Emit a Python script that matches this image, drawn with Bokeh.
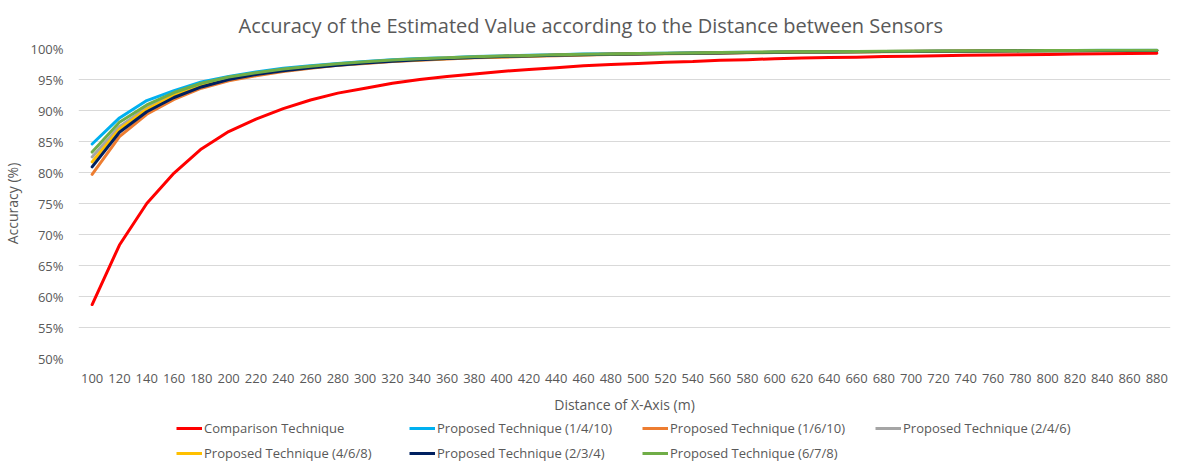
from bokeh.plotting import figure
from bokeh.layouts import column
from bokeh.models import Range1d, FactorRange, Legend, LegendItem, FixedTicker, PrintfTickFormatter, Title
from bokeh.embed import file_html
from bokeh.resources import INLINE

distances = [str(d) for d in range(100, 881, 20)]

comparison = [58.7, 68.3, 75.0, 79.9, 83.8, 86.6, 88.6, 90.3, 91.7, 92.8,
              93.6, 94.4, 95.0, 95.5, 95.9, 96.3, 96.6, 96.9, 97.2, 97.4,
              97.6, 97.8, 97.9, 98.1, 98.2, 98.35, 98.45, 98.55, 98.6, 98.7,
              98.75, 98.85, 98.9, 98.95, 99.0, 99.05, 99.1, 99.15, 99.2, 99.25]
prop_1_4_10 = [84.6, 88.8, 91.6, 93.2, 94.6, 95.5, 96.2, 96.8, 97.2, 97.6,
               97.9, 98.2, 98.4, 98.5, 98.7, 98.8, 98.9, 99.0, 99.1, 99.15,
               99.2, 99.25, 99.3, 99.35, 99.4, 99.42, 99.45, 99.47, 99.5, 99.52,
               99.55, 99.57, 99.6, 99.62, 99.64, 99.66, 99.68, 99.7, 99.7, 99.72]
prop_1_6_10 = [79.7, 85.8, 89.4, 91.8, 93.6, 94.8, 95.6, 96.3, 96.8, 97.3,
               97.6, 97.9, 98.1, 98.3, 98.5, 98.6, 98.75, 98.85, 98.95, 99.05,
               99.1, 99.15, 99.2, 99.25, 99.3, 99.35, 99.4, 99.42, 99.45, 99.48,
               99.5, 99.53, 99.55, 99.58, 99.6, 99.62, 99.64, 99.66, 99.67, 99.68]
prop_2_4_6 = [82.5, 87.4, 90.5, 92.6, 94.1, 95.2, 95.9, 96.5, 97.0, 97.4,
              97.75, 98.05, 98.25, 98.45, 98.6, 98.75, 98.85, 98.95, 99.05, 99.1,
              99.15, 99.2, 99.25, 99.3, 99.35, 99.4, 99.43, 99.46, 99.49, 99.52,
              99.54, 99.56, 99.58, 99.6, 99.62, 99.64, 99.66, 99.68, 99.69, 99.7]
prop_4_6_8 = [81.7, 87.0, 90.2, 92.4, 94.0, 95.1, 95.85, 96.45, 96.95, 97.35,
              97.7, 98.0, 98.2, 98.4, 98.55, 98.7, 98.8, 98.9, 99.0, 99.08,
              99.14, 99.2, 99.25, 99.3, 99.35, 99.4, 99.43, 99.46, 99.49, 99.51,
              99.54, 99.56, 99.58, 99.6, 99.62, 99.64, 99.66, 99.67, 99.68, 99.69]
prop_2_3_4 = [80.9, 86.5, 89.8, 92.1, 93.8, 95.0, 95.8, 96.4, 96.9, 97.3,
              97.65, 97.95, 98.2, 98.4, 98.55, 98.7, 98.8, 98.9, 99.0, 99.07,
              99.13, 99.19, 99.24, 99.29, 99.34, 99.39, 99.42, 99.45, 99.48, 99.51,
              99.53, 99.55, 99.57, 99.6, 99.62, 99.64, 99.65, 99.66, 99.67, 99.68]
prop_6_7_8 = [83.3, 88.1, 90.9, 92.9, 94.4, 95.4, 96.1, 96.7, 97.15, 97.55,
              97.85, 98.15, 98.35, 98.5, 98.65, 98.78, 98.88, 98.98, 99.07, 99.13,
              99.19, 99.24, 99.29, 99.34, 99.39, 99.43, 99.46, 99.49, 99.52, 99.55,
              99.57, 99.59, 99.61, 99.63, 99.65, 99.67, 99.69, 99.7, 99.71, 99.72]

series_names = ["Comparison Technique", "Proposed Technique (1/4/10)", "Proposed Technique (1/6/10)",
                "Proposed Technique (2/4/6)", "Proposed Technique (4/6/8)", "Proposed Technique (2/3/4)",
                "Proposed Technique (6/7/8)"]
series_values = [comparison, prop_1_4_10, prop_1_6_10, prop_2_4_6, prop_4_6_8, prop_2_3_4, prop_6_7_8]
series_colors = ["#FF0000", "#00B0F0", "#ED7D31", "#A5A5A5", "#FFC000", "#002060", "#70AD47"]
y_ticks = [50, 55, 60, 65, 70, 75, 80, 85, 90, 95, 100]

TXT = "#595959"
FONT = "Open Sans"

p = figure(frame_width=1092, frame_height=310,
           x_range=FactorRange(factors=distances, range_padding=0),
           y_range=Range1d(50, 100), output_backend="svg", toolbar_location=None,
           min_border_left=69, min_border_right=1, min_border_top=41, min_border_bottom=0)
p.outline_line_color = None
p.background_fill_color = "white"
p.border_fill_color = "white"

p.add_layout(Title(text="Accuracy of the Estimated Value according to the Distance between Sensors",
                   align="left", offset=160, text_font=FONT, text_font_size="20px",
                   text_font_style="normal", text_color=TXT, standoff=19), "above")

p.xgrid.grid_line_color = None
p.ygrid.grid_line_color = "#D9D9D9"
p.ygrid.grid_line_width = 1

p.yaxis.ticker = FixedTicker(ticks=y_ticks)
p.yaxis.formatter = PrintfTickFormatter(format="%d%%")
for ax in (p.xaxis[0], p.yaxis[0]):
    ax.axis_line_color = None
    ax.major_tick_line_color = None
    ax.minor_tick_line_color = None
    ax.major_tick_out = 0
    ax.major_tick_in = 0
    ax.major_label_text_font = FONT
    ax.major_label_text_font_size = "13px"
    ax.major_label_text_color = TXT
    ax.axis_label_text_font = FONT
    ax.axis_label_text_font_size = "14px"
    ax.axis_label_text_font_style = "normal"
    ax.axis_label_text_color = TXT
p.yaxis.major_label_standoff = 15
p.xaxis.major_label_standoff = 15
p.xaxis.major_label_orientation = "horizontal"
p.yaxis.axis_label = "Accuracy (%)"
p.xaxis.axis_label = "Distance of X-Axis (m)"
p.yaxis.axis_label_standoff = 5
p.xaxis.axis_label_standoff = 9

for vals, col in zip(series_values, series_colors):
    p.line(distances, vals, line_color=col, line_width=3, line_join="round", line_cap="round")

# Legend strip below the chart (same series; lines fall outside this strip's range)
leg_fig = figure(width=1162, height=46, x_range=FactorRange(factors=distances, range_padding=0),
                 y_range=Range1d(0, 1), output_backend="svg", toolbar_location=None,
                 min_border=0, outline_line_color=None, x_axis_location=None, y_axis_location=None)
leg_fig.grid.grid_line_color = None
leg_fig.background_fill_color = "white"
leg_fig.border_fill_color = "white"

items = []
for name, vals, col in zip(series_names, series_values, series_colors):
    r = leg_fig.line(distances, vals, line_color=col, line_width=3)
    items.append(LegendItem(label=name, renderers=[r]))

legend = Legend(items=items, orientation="horizontal", ncols=4, location=(98, 0),
                padding=0, margin=0, spacing=7, glyph_width=26, glyph_height=14,
                label_height=14, label_width=198, label_standoff=2,
                label_text_font=FONT, label_text_font_size="13px", label_text_color=TXT,
                background_fill_alpha=0, border_line_color=None)
leg_fig.add_layout(legend)

layout = column(p, leg_fig, spacing=0)
open("out.html", "w").write(file_html(layout, INLINE))
